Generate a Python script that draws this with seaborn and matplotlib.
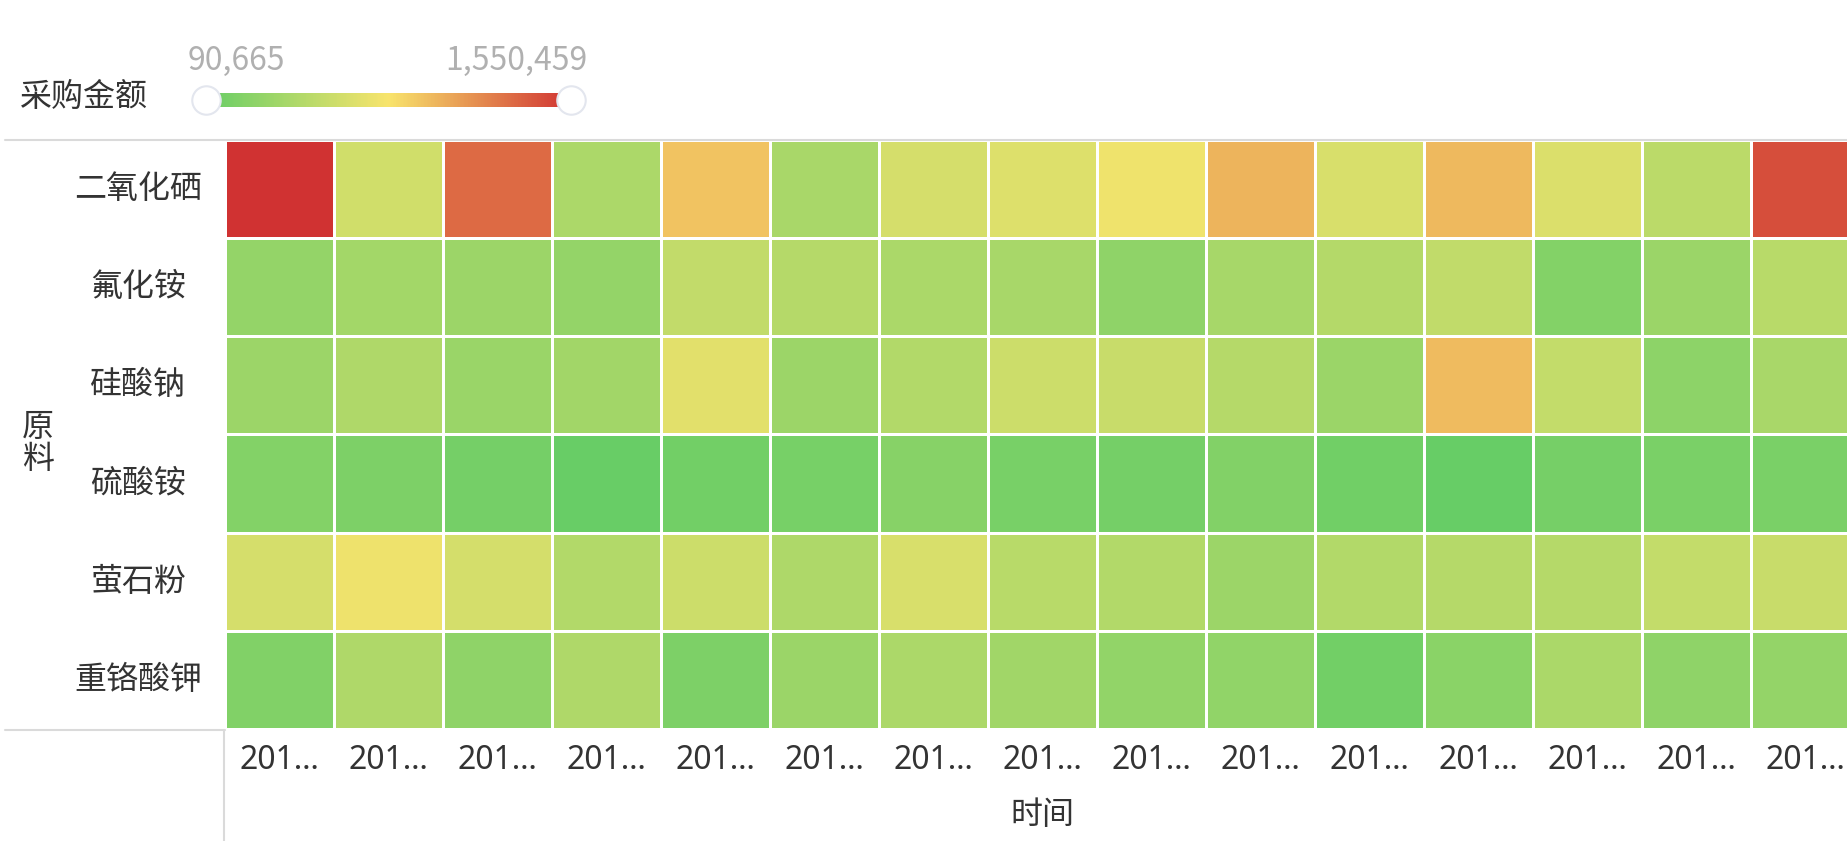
import pandas as pd
import matplotlib
matplotlib.use("Agg")
import matplotlib.pyplot as plt
from matplotlib.colors import LinearSegmentedColormap
from matplotlib.lines import Line2D
import seaborn as sns

# ---------------------------------------------------------------
# Datos: monto de compra (采购金额) por material y periodo
# ---------------------------------------------------------------
materials = ["二氧化硒", "氟化铵", "硅酸钠", "硫酸铵", "萤石粉", "重铬酸钾"]
time_labels = ["201…"] * 15

selenium_dioxide = [1550459, 616200, 1316900, 441000, 951900, 426400, 645400, 689200,
                    776800, 1017600, 660000, 995700, 674600, 514000, 1433700]
ammonium_fluoride = [324200, 397200, 360700, 320600, 550500, 484800, 438000, 419100,
                     290600, 411800, 479000, 543200, 236600, 353400, 499400]
sodium_silicate = [360700, 455600, 350000, 389900, 711100, 362000, 470200, 601600,
                   579700, 484800, 358000, 989000, 557800, 280400, 426400]
ammonium_sulfate = [236600, 200100, 163600, 98000, 149000, 171000, 251200, 178300,
                    160000, 232000, 147000, 90665, 170000, 192800, 190000]
fluorite_powder = [645400, 769500, 641000, 470200, 601600, 448300, 660000, 499400,
                   468000, 360700, 472000, 484800, 487000, 557800, 579700]
potassium_dichromate = [222000, 455600, 295000, 452000, 200100, 353400, 441000, 382600,
                        309600, 302300, 149000, 273100, 438000, 295000, 324200]

df = pd.DataFrame([selenium_dioxide, ammonium_fluoride, sodium_silicate,
                   ammonium_sulfate, fluorite_powder, potassium_dichromate],
                  index=materials)
vmin = df.values.min()
vmax = df.values.max()

# Estilo general
sns.set_theme(style="white")
plt.rcParams['font.family'] = ['Noto Sans CJK SC', 'DejaVu Sans']
TEXT = '#333333'
FS = 23

cmap = LinearSegmentedColormap.from_list("gyr", ["#67cd66", "#f8e46c", "#d03232"])

fig = plt.figure(figsize=(18.47, 8.41), dpi=100)
ax = fig.add_axes([0.1218, 0.1332, 0.8852, 0.7004])
cax = fig.add_axes([0.1115, 0.8726, 0.1976, 0.0166])

sns.heatmap(df, cmap=cmap, vmin=vmin, vmax=vmax, linewidths=2, linecolor='white',
            xticklabels=time_labels, yticklabels=materials, ax=ax, cbar_ax=cax,
            cbar_kws={'orientation': 'horizontal'})

# Ejes del mapa de calor
ax.tick_params(axis='y', length=0, pad=62.6, labelsize=FS, labelcolor=TEXT)
for lbl in ax.get_yticklabels():
    lbl.set_rotation(0)
    lbl.set_horizontalalignment('center')
ax.tick_params(axis='x', length=0, pad=11, labelsize=FS, labelcolor=TEXT)
for lbl in ax.get_xticklabels():
    lbl.set_rotation(0)
    lbl.set_family(['Noto Sans', 'DejaVu Sans'])
ax.set_xlabel('时间', fontsize=FS, color=TEXT, labelpad=16)
ax.set_ylabel('原\n料', rotation=0, fontsize=FS, color=TEXT, linespacing=1.0,
              ha='center', va='center')
ax.yaxis.set_label_coords(-0.1144, 0.485)

# Leyenda continua (barra de color con asas)
cbar = ax.collections[0].colorbar
cbar.outline.set_visible(False)
cax.set_xticks([])
cax.set_yticks([])
cax.scatter([vmin, vmax], [0.5, 0.5], s=420, c='white', edgecolors='#e3e6ee',
            linewidths=1.5, clip_on=False, zorder=5)
cax.set_xlim(vmin, vmax)
cax.set_ylim(0, 1)

fig.text(188 / 1847, 1 - 61 / 841, f"{vmin:,.0f}", ha='left', va='center',
         color='#b0b0b0', fontsize=23)
fig.text(588 / 1847, 1 - 61 / 841, f"{vmax:,.0f}", ha='right', va='center',
         color='#b0b0b0', fontsize=23)
fig.text(20 / 1847, 1 - 97 / 841, '采购金额', ha='left', va='center',
         color=TEXT, fontsize=FS)

# Lineas de separacion tipo tabla
grey = '#dadada'
fig.add_artist(Line2D([5 / 1847, 1], [1 - 140 / 841] * 2, color=grey, lw=1.5))
fig.add_artist(Line2D([5 / 1847, 225 / 1847], [1 - 730 / 841] * 2, color=grey, lw=1.5))
fig.add_artist(Line2D([224 / 1847] * 2, [0, 1 - 730 / 841], color=grey, lw=1.5))

fig.savefig('out.png', dpi=100)
